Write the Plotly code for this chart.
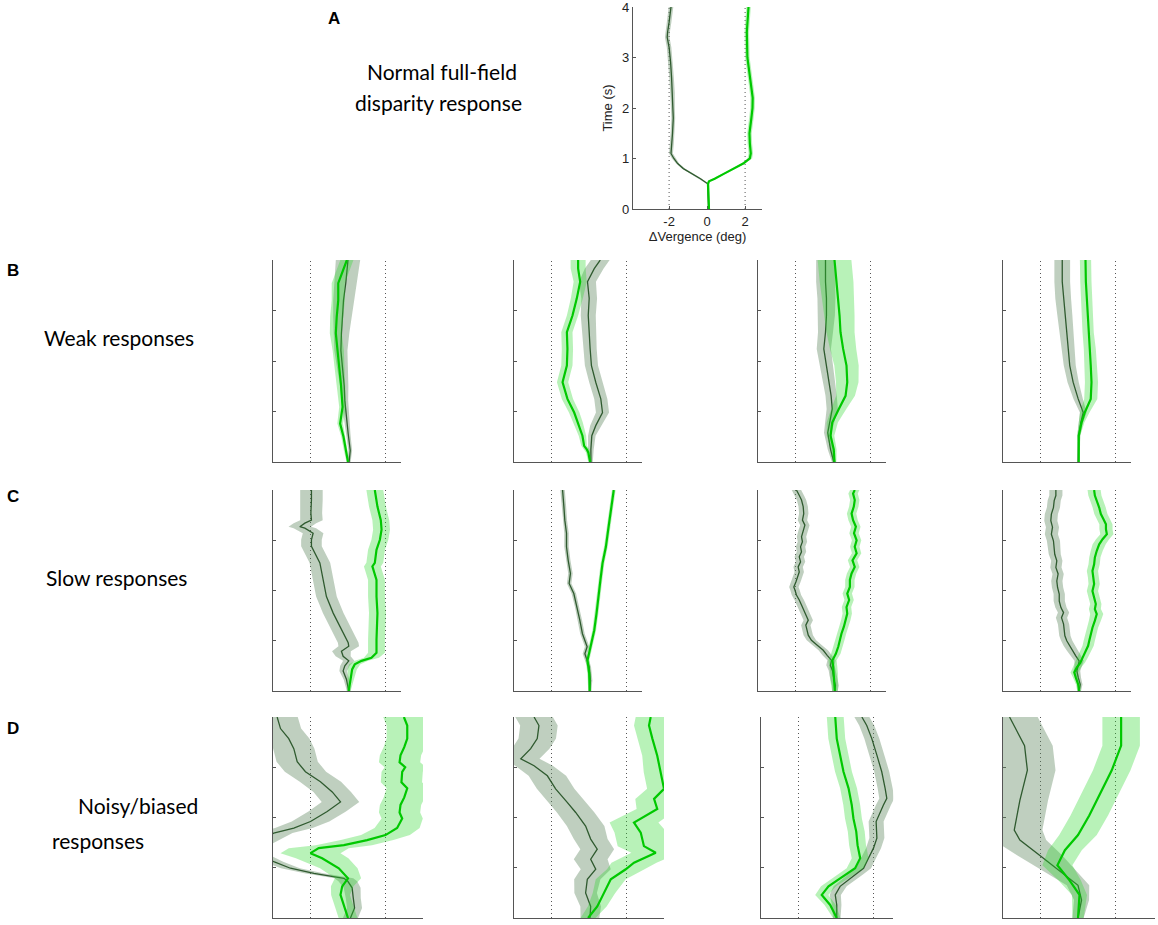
import plotly.graph_objects as go

W_PX, H_PX = 1158, 925

# each trace: (time s, vergence deg, band half-width deg)
A_DARK = [(0, 0.08, 0.05), (0.2, 0.07, 0.05), (0.4, 0.05, 0.05), (0.5, 0.03, 0.06), (0.6, -0.35, 0.08),
          (0.7, -0.8, 0.08), (0.8, -1.25, 0.08), (0.9, -1.55, 0.08), (1.0, -1.75, 0.1), (1.1, -1.9, 0.1),
          (1.3, -1.85, 0.1), (1.5, -1.82, 0.1), (1.8, -1.78, 0.1), (2.0, -1.8, 0.1), (2.3, -1.82, 0.12),
          (2.6, -1.87, 0.12), (2.9, -1.92, 0.12), (3.2, -2.0, 0.12), (3.4, -2.1, 0.12), (3.5, -2.08, 0.12),
          (3.7, -2.0, 0.12), (4.0, -1.9, 0.12)]
A_BRIGHT = [(0, 0.1, 0.05), (0.2, 0.09, 0.05), (0.4, 0.07, 0.05), (0.5, 0.05, 0.06), (0.55, 0.1, 0.06),
            (0.6, 0.4, 0.08), (0.7, 0.9, 0.08), (0.8, 1.4, 0.08), (0.9, 1.9, 0.1), (1.0, 2.25, 0.12),
            (1.1, 2.3, 0.12), (1.3, 2.25, 0.12), (1.5, 2.23, 0.12), (1.8, 2.33, 0.12), (2.0, 2.39, 0.12),
            (2.2, 2.4, 0.12), (2.5, 2.3, 0.12), (2.8, 2.18, 0.12), (3.0, 2.12, 0.12), (3.5, 2.09, 0.12),
            (4.0, 2.18, 0.12)]

B1_DARK = [(0, 0.06, 0.08), (0.23, 0.12, 0.1), (0.56, 0.01, 0.12), (1.0, -0.12, 0.15), (1.22, -0.17, 0.18),
           (1.5, -0.2, 0.22), (1.88, -0.29, 0.3), (2.21, -0.38, 0.35), (2.55, -0.35, 0.42), (2.88, -0.29, 0.5),
           (3.2, -0.24, 0.55), (3.54, -0.12, 0.6), (4.0, 0.0, 0.65)]
B1_BRIGHT = [(0, 0.0, 0.08), (0.23, -0.12, 0.1), (0.5, -0.24, 0.12), (0.76, -0.42, 0.15), (1.09, -0.29, 0.18),
             (1.55, -0.38, 0.22), (1.88, -0.47, 0.25), (2.21, -0.52, 0.3), (2.55, -0.65, 0.32), (2.88, -0.6, 0.35),
             (3.2, -0.52, 0.35), (3.54, -0.52, 0.35), (3.87, -0.2, 0.35), (4.0, -0.06, 0.35)]

B2_DARK = [(0, 0.1, 0.1), (0.25, 0.1, 0.15), (0.52, 0.15, 0.2), (0.72, 0.36, 0.3), (0.98, 0.72, 0.35),
           (1.25, 0.63, 0.35), (1.58, 0.36, 0.35), (1.91, 0.13, 0.35), (2.24, 0.06, 0.35), (2.57, 0.01, 0.38),
           (2.9, -0.04, 0.4), (3.24, 0.01, 0.42), (3.57, -0.08, 0.45), (3.83, 0.28, 0.5), (4.0, 0.6, 0.5)]
B2_BRIGHT = [(0, 0.06, 0.1), (0.19, -0.04, 0.12), (0.25, -0.12, 0.15), (0.32, -0.26, 0.15), (0.52, -0.35, 0.2),
             (0.78, -0.58, 0.25), (0.98, -0.79, 0.28), (1.25, -1.15, 0.3), (1.58, -1.41, 0.3), (1.91, -1.18, 0.3),
             (2.24, -1.15, 0.3), (2.57, -1.18, 0.3), (2.9, -0.88, 0.3), (3.24, -0.65, 0.32), (3.57, -0.47, 0.35),
             (3.83, -0.58, 0.4), (4.0, -0.58, 0.4)]

B3_DARK = [(0, 0.04, 0.1), (0.25, -0.13, 0.15), (0.58, -0.28, 0.2), (0.78, -0.17, 0.25), (1.05, -0.04, 0.3),
           (1.31, -0.1, 0.3), (1.58, -0.22, 0.32), (1.91, -0.35, 0.35), (2.24, -0.49, 0.38), (2.57, -0.4, 0.4),
           (2.9, -0.35, 0.45), (3.24, -0.35, 0.48), (3.57, -0.4, 0.5), (4.0, -0.4, 0.5)]
B3_BRIGHT = [(0, 0.08, 0.1), (0.25, 0.04, 0.15), (0.52, -0.13, 0.2), (0.78, -0.04, 0.3), (1.05, 0.31, 0.4),
             (1.31, 0.67, 0.5), (1.58, 0.76, 0.6), (1.91, 0.72, 0.65), (2.24, 0.54, 0.7), (2.57, 0.4, 0.75),
             (2.9, 0.35, 0.8), (3.24, 0.26, 0.85), (3.57, 0.19, 0.9), (4.0, 0.08, 0.9)]

B4_DARK = [(0, 0.01, 0.05), (0.52, 0.04, 0.08), (0.78, 0.15, 0.12), (0.98, 0.28, 0.18), (1.25, 0.01, 0.25),
           (1.58, -0.26, 0.3), (1.91, -0.44, 0.32), (2.24, -0.52, 0.35), (2.57, -0.61, 0.38), (2.9, -0.7, 0.4),
           (3.24, -0.79, 0.42), (3.57, -0.84, 0.42), (4.0, -0.84, 0.42)]
B4_BRIGHT = [(0, 0.04, 0.05), (0.52, 0.04, 0.08), (0.78, 0.19, 0.15), (0.98, 0.36, 0.25), (1.25, 0.68, 0.35),
             (1.58, 0.72, 0.35), (1.91, 0.68, 0.33), (2.24, 0.63, 0.32), (2.57, 0.54, 0.3), (2.9, 0.49, 0.3),
             (3.24, 0.45, 0.3), (3.57, 0.42, 0.3), (4.0, 0.4, 0.3)]

C1_DARK = [(0, 0.04, 0.1), (0.23, -0.08, 0.15), (0.4, -0.26, 0.2), (0.5, -0.17, 0.25), (0.6, 0.04, 0.3),
           (0.69, -0.26, 0.4), (0.79, -0.35, 0.5), (0.89, 0.04, 0.55), (0.96, 0.01, 0.55), (1.22, -0.35, 0.55),
           (1.55, -0.79, 0.55), (1.88, -1.15, 0.55), (2.21, -1.32, 0.55), (2.55, -1.5, 0.55), (2.88, -1.95, 0.55),
           (3.01, -1.95, 0.55), (3.14, -1.86, 0.55), (3.24, -2.3, 0.6), (3.27, -2.57, 0.6), (3.34, -2.3, 0.6),
           (3.4, -1.95, 0.6), (3.54, -1.98, 0.6), (3.8, -1.95, 0.6), (4.0, -1.95, 0.6)]
C1_BRIGHT = [(0, 0.04, 0.1), (0.17, 0.1, 0.15), (0.33, 0.19, 0.2), (0.43, 0.22, 0.25), (0.53, 0.36, 0.3),
             (0.6, 0.72, 0.35), (0.66, 1.25, 0.4), (0.76, 1.52, 0.45), (1.02, 1.52, 0.45), (1.55, 1.57, 0.45),
             (1.88, 1.52, 0.45), (2.21, 1.52, 0.45), (2.48, 1.3, 0.45), (2.55, 1.43, 0.45), (2.81, 1.52, 0.45),
             (3.01, 1.7, 0.45), (3.21, 1.79, 0.45), (3.4, 1.75, 0.45), (3.67, 1.57, 0.45), (4.0, 1.43, 0.45)]

C2_DARK = [(0, 0.04, 0.08), (0.21, 0.08, 0.1), (0.48, 0.01, 0.1), (0.61, -0.1, 0.12), (0.74, -0.22, 0.12),
           (0.88, -0.1, 0.12), (1.14, -0.35, 0.12), (1.41, -0.49, 0.12), (1.67, -0.63, 0.12), (1.94, -0.81, 0.12),
           (2.14, -1.06, 0.12), (2.34, -0.99, 0.12), (2.6, -1.11, 0.12), (2.87, -1.2, 0.12), (3.14, -1.2, 0.12),
           (3.4, -1.29, 0.12), (3.67, -1.34, 0.12), (4.0, -1.41, 0.12)]
C2_BRIGHT = [(0, 0.04, 0.08), (0.35, 0.01, 0.1), (0.61, -0.08, 0.1), (0.88, 0.08, 0.1), (1.21, 0.28, 0.1),
             (1.54, 0.4, 0.1), (1.87, 0.49, 0.1), (2.21, 0.61, 0.1), (2.54, 0.72, 0.1), (2.87, 0.9, 0.1),
             (3.2, 1.02, 0.1), (3.53, 1.15, 0.1), (4.0, 1.32, 0.1)]

C3_DARK = [(0, 0.1, 0.15), (0.11, 0.13, 0.18), (0.21, 0.06, 0.2), (0.31, 0.01, 0.2), (0.41, -0.03, 0.2),
           (0.51, -0.14, 0.22), (0.61, -0.08, 0.22), (0.71, -0.31, 0.25), (0.81, -0.52, 0.25), (0.91, -0.84, 0.25),
           (1.01, -1.15, 0.25), (1.11, -1.32, 0.25), (1.21, -1.38, 0.25), (1.31, -1.45, 0.25), (1.41, -1.32, 0.25),
           (1.51, -1.45, 0.25), (1.61, -1.59, 0.25), (1.71, -1.68, 0.25), (1.81, -1.8, 0.25), (1.91, -1.95, 0.25),
           (2.01, -2.03, 0.25), (2.07, -2.09, 0.25), (2.17, -1.98, 0.25), (2.27, -1.91, 0.25), (2.37, -1.8, 0.25),
           (2.47, -1.86, 0.25), (2.57, -1.73, 0.25), (2.67, -1.8, 0.25), (2.77, -1.68, 0.25), (2.87, -1.73, 0.25),
           (2.97, -1.63, 0.25), (3.07, -1.68, 0.25), (3.2, -1.59, 0.25), (3.3, -1.5, 0.25), (3.4, -1.63, 0.25),
           (3.53, -1.56, 0.25), (3.67, -1.59, 0.25), (3.8, -1.68, 0.25), (3.9, -1.81, 0.25), (4.0, -1.95, 0.25)]
C3_BRIGHT = [(0, 0.1, 0.15), (0.21, 0.06, 0.2), (0.35, 0.06, 0.2), (0.48, 0.01, 0.22), (0.61, -0.03, 0.22),
             (0.74, 0.15, 0.25), (0.88, 0.28, 0.25), (1.01, 0.36, 0.25), (1.14, 0.45, 0.25), (1.28, 0.58, 0.25),
             (1.41, 0.68, 0.25), (1.54, 0.76, 0.25), (1.67, 0.72, 0.25), (1.81, 0.86, 0.25), (1.94, 0.76, 0.25),
             (2.07, 0.9, 0.25), (2.21, 0.9, 0.25), (2.34, 0.99, 0.25), (2.47, 1.16, 0.25), (2.6, 1.04, 0.25),
             (2.74, 1.26, 0.25), (2.87, 1.16, 0.25), (3.0, 1.26, 0.25), (3.14, 1.12, 0.25), (3.27, 1.22, 0.25),
             (3.4, 1.07, 0.25), (3.53, 0.99, 0.25), (3.67, 1.11, 0.25), (3.8, 1.16, 0.25), (3.93, 1.07, 0.25),
             (4.0, 1.16, 0.25)]

C4_DARK = [(0, 0.06, 0.1), (0.13, 0.12, 0.12), (0.27, 0.01, 0.15), (0.4, -0.06, 0.18), (0.5, 0.01, 0.2),
           (0.6, 0.06, 0.25), (0.7, -0.12, 0.28), (0.8, -0.29, 0.3), (0.9, -0.47, 0.3), (1.0, -0.6, 0.3),
           (1.1, -0.7, 0.3), (1.2, -0.74, 0.3), (1.33, -0.77, 0.3), (1.46, -0.88, 0.3), (1.56, -0.77, 0.3),
           (1.66, -0.91, 0.3), (1.79, -1.0, 0.3), (1.93, -1.0, 0.3), (2.06, -1.09, 0.3), (2.19, -1.13, 0.3),
           (2.33, -1.06, 0.3), (2.46, -1.18, 0.3), (2.59, -1.13, 0.3), (2.72, -1.24, 0.32), (2.86, -1.27, 0.35),
           (2.99, -1.31, 0.35), (3.12, -1.42, 0.35), (3.26, -1.36, 0.35), (3.39, -1.45, 0.35), (3.52, -1.42, 0.35),
           (3.65, -1.31, 0.35), (3.79, -1.27, 0.35), (3.89, -1.18, 0.35), (4.0, -1.18, 0.35)]
C4_BRIGHT = [(0, 0.06, 0.1), (0.13, 0.01, 0.12), (0.27, -0.12, 0.15), (0.37, -0.2, 0.2), (0.47, -0.06, 0.22),
             (0.56, 0.12, 0.25), (0.66, 0.24, 0.28), (0.8, 0.42, 0.3), (0.9, 0.54, 0.3), (1.0, 0.6, 0.3),
             (1.13, 0.68, 0.3), (1.26, 0.77, 0.3), (1.4, 0.9, 0.32), (1.53, 1.0, 0.35), (1.63, 0.9, 0.32),
             (1.73, 0.95, 0.3), (1.86, 0.86, 0.3), (1.99, 0.77, 0.3), (2.13, 0.86, 0.3), (2.26, 0.83, 0.3),
             (2.39, 0.77, 0.3), (2.52, 0.86, 0.3), (2.66, 0.9, 0.3), (2.79, 1.0, 0.32), (2.92, 1.13, 0.35),
             (3.02, 1.31, 0.35), (3.12, 1.54, 0.35), (3.22, 1.49, 0.35), (3.32, 1.49, 0.35), (3.42, 1.36, 0.35),
             (3.52, 1.22, 0.35), (3.65, 1.13, 0.35), (3.79, 1.0, 0.35), (3.89, 0.9, 0.35), (4.0, 0.86, 0.35)]

D1_DARK = [(0, 0.13, 0.4), (0.2, 0.35, 0.4), (0.4, 0.28, 0.4), (0.6, 0.22, 0.45), (0.73, -0.01, 0.5),
           (0.79, -0.22, 0.5), (0.89, -1.82, 0.5), (0.99, -3.07, 0.5), (1.12, -3.96, 0.5), (1.22, -4.6, 0.6),
           (1.45, -5.0, 0.8), (1.69, -3.96, 1.0), (1.79, -2.89, 1.0), (1.92, -2.0, 1.0), (2.12, -1.11, 1.0),
           (2.31, -0.4, 1.0), (2.51, -0.84, 1.0), (2.71, -1.47, 1.1), (2.91, -2.27, 1.1), (3.11, -2.71, 1.1),
           (3.37, -2.89, 1.1), (3.57, -3.16, 1.1), (3.77, -3.6, 1.1), (4.0, -3.78, 1.1)]
D1_BRIGHT = [(0, 0.0, 0.5), (0.26, -0.22, 0.5), (0.46, -0.4, 0.5), (0.63, -0.31, 0.6), (0.79, 0.0, 0.7),
             (0.99, -0.49, 1.0), (1.19, -1.38, 1.4), (1.29, -2.0, 1.6), (1.39, -1.56, 1.6), (1.45, -0.22, 1.5),
             (1.55, 1.02, 1.4), (1.65, 2.0, 1.3), (1.79, 2.62, 1.2), (1.98, 2.89, 1.1), (2.1, 2.75, 1.1),
             (2.25, 2.8, 1.1), (2.4, 3.0, 1.1), (2.58, 3.16, 1.1), (2.7, 2.85, 1.1), (2.91, 2.89, 1.1),
             (3.0, 3.05, 1.1), (3.1, 2.75, 1.1), (3.24, 2.8, 1.1), (3.4, 3.0, 1.1), (3.57, 3.16, 1.1),
             (3.83, 3.16, 1.1), (4.0, 2.98, 1.1)]

D2_DARK = [(0, 0.05, 0.5), (0.23, 0.09, 0.55), (0.5, -0.18, 0.6), (0.77, -0.09, 0.7), (0.97, 0.36, 0.8),
           (1.17, 0.09, 0.9), (1.37, 0.44, 0.9), (1.57, 0.09, 0.9), (1.83, -0.18, 1.0), (2.1, -0.71, 1.0),
           (2.3, -1.16, 1.0), (2.57, -1.78, 1.0), (2.83, -2.22, 1.0), (3.03, -2.93, 1.0), (3.17, -3.64, 1.0),
           (3.37, -3.11, 1.0), (3.57, -2.76, 1.0), (3.83, -2.67, 1.0), (4.0, -2.93, 1.0)]
D2_BRIGHT = [(0, -0.05, 0.4), (0.23, 0.44, 0.5), (0.5, 0.8, 0.6), (0.77, 1.16, 0.8), (0.97, 1.96, 1.0),
             (1.1, 2.4, 1.2), (1.3, 3.56, 1.3), (1.43, 2.93, 1.4), (1.7, 2.76, 1.4), (1.9, 2.4, 1.3),
             (2.17, 3.64, 1.1), (2.37, 3.47, 1.0), (2.57, 4.0, 0.9), (2.9, 3.82, 0.9), (3.23, 3.64, 0.8),
             (3.57, 3.38, 0.8), (3.83, 3.2, 0.8), (4.0, 3.29, 0.8)]

D3_DARK = [(0, 0.04, 0.2), (0.26, 0.04, 0.25), (0.46, -0.04, 0.3), (0.63, 0.22, 0.35), (0.86, 1.02, 0.4),
           (0.99, 1.47, 0.4), (1.19, 1.73, 0.4), (1.39, 2.0, 0.4), (1.59, 2.18, 0.4), (1.92, 2.14, 0.4),
           (2.25, 2.53, 0.4), (2.38, 2.71, 0.4), (2.58, 2.62, 0.4), (2.91, 2.44, 0.4), (3.24, 2.18, 0.4),
           (3.57, 1.91, 0.4), (3.83, 1.64, 0.4), (4.0, 1.38, 0.4)]
D3_BRIGHT = [(0, 0.04, 0.2), (0.26, -0.31, 0.3), (0.46, -0.76, 0.35), (0.63, -0.4, 0.4), (0.79, 0.22, 0.45),
             (0.99, 1.02, 0.45), (1.19, 1.29, 0.45), (1.45, 1.15, 0.45), (1.72, 1.08, 0.45), (1.98, 0.93, 0.45),
             (2.25, 0.84, 0.45), (2.58, 0.67, 0.45), (2.91, 0.4, 0.45), (3.24, 0.22, 0.45), (3.57, 0.04, 0.45),
             (4.0, -0.04, 0.45)]

D4_DARK = [(0, 0.0, 0.3), (0.36, 0.19, 0.4), (0.65, 0.0, 0.6), (0.95, -1.0, 0.9), (1.25, -2.05, 1.2),
           (1.55, -3.1, 1.4), (1.75, -3.4, 1.5), (2.34, -3.1, 1.5), (2.94, -2.7, 1.5), (3.43, -2.85, 1.5),
           (4.0, -3.65, 1.5)]
D4_BRIGHT = [(0, 0.0, 0.3), (0.46, 0.08, 0.4), (0.75, -0.45, 0.6), (1.05, -1.1, 0.8), (1.35, -0.7, 0.9),
             (1.65, 0.0, 1.0), (2.04, 0.6, 1.0), (2.44, 1.15, 1.0), (2.94, 1.8, 1.0), (3.43, 2.3, 1.0),
             (4.0, 2.3, 1.0)]

ROW_LABELS = ["B", "C", "D"]

DARK_LINE = "#2f5a2f"
DARK_FILL = "rgba(95,135,95,0.4)"
BRIGHT_LINE = "#00c800"
BRIGHT_FILL = "rgba(40,215,40,0.33)"
AXIS_COL = "#555555"

# panel boxes in pixels: (left, top, bottom), then x range
PANELS = [
    ("A", A_DARK, A_BRIGHT, (633, 7, 209), (-3.9, 2.9)),
    ("B1", B1_DARK, B1_BRIGHT, (273, 260, 462), (-4, 2.85)),
    ("B2", B2_DARK, B2_BRIGHT, (514, 260, 462), (-4, 2.85)),
    ("B3", B3_DARK, B3_BRIGHT, (758, 260, 462), (-4, 2.85)),
    ("B4", B4_DARK, B4_BRIGHT, (1003, 260, 462), (-4, 2.85)),
    ("C1", C1_DARK, C1_BRIGHT, (273, 490, 691), (-4, 2.85)),
    ("C2", C2_DARK, C2_BRIGHT, (514, 490, 691), (-4, 2.85)),
    ("C3", C3_DARK, C3_BRIGHT, (758, 490, 691), (-4, 2.85)),
    ("C4", C4_DARK, C4_BRIGHT, (1003, 490, 691), (-4, 2.85)),
    ("D1", D1_DARK, D1_BRIGHT, (273, 717, 918), (-4, 4)),
    ("D2", D2_DARK, D2_BRIGHT, (514, 717, 918), (-4, 4)),
    ("D3", D3_DARK, D3_BRIGHT, (761, 717, 918), (-4, 3.05)),
    ("D4", D4_DARK, D4_BRIGHT, (1003, 717, 918), (-4, 4.1)),
]

fig = go.Figure()
layout = dict(width=W_PX, height=H_PX, margin=dict(l=0, r=0, t=0, b=0, autoexpand=False),
              paper_bgcolor="white", plot_bgcolor="rgba(0,0,0,0)", showlegend=False)
tick_font = dict(family="Liberation Sans", size=13, color="#222")


def add_band(data, xa, ya, fill, line, lw):
    t = [p[0] for p in data]
    v = [p[1] for p in data]
    w = [p[2] for p in data]
    hi = [a + b for a, b in zip(v, w)]
    lo = [a - b for a, b in zip(v, w)]
    fig.add_trace(go.Scatter(x=hi + lo[::-1], y=t + t[::-1], fill="toself", fillcolor=fill,
                             line=dict(width=0), mode="lines", xaxis=xa, yaxis=ya, hoverinfo="skip"))
    fig.add_trace(go.Scatter(x=v, y=t, mode="lines", line=dict(color=line, width=lw),
                             xaxis=xa, yaxis=ya))


for i, (name, dark, bright, box, xr) in enumerate(PANELS):
    n = i + 1
    xa = "x" if n == 1 else "x%d" % n
    ya = "y" if n == 1 else "y%d" % n
    left, top, bottom = box
    scale = 19.0 if name == "A" else 18.75
    right = left + (xr[1] - xr[0]) * scale
    is_a = name == "A"
    # dotted reference lines at +/-2 deg
    for d in (-2, 2):
        fig.add_trace(go.Scatter(x=[d, d], y=[0, 4], mode="lines", xaxis=xa, yaxis=ya,
                                 line=dict(color="#555555", width=1, dash="1px,3px"), hoverinfo="skip"))
    add_band(dark, xa, ya, DARK_FILL, DARK_LINE, 1.3)
    add_band(bright, xa, ya, BRIGHT_FILL, BRIGHT_LINE, 2.2)
    xkey = "xaxis" if n == 1 else "xaxis%d" % n
    ykey = "yaxis" if n == 1 else "yaxis%d" % n
    layout[xkey] = dict(domain=[left / W_PX, right / W_PX], range=list(xr), anchor=ya, automargin=False,
                        showgrid=False, zeroline=False, showline=True, linecolor=AXIS_COL, linewidth=1.3,
                        ticks="inside" if is_a else "", ticklen=3, tickcolor=AXIS_COL,
                        tickvals=[-2, 0, 2], ticktext=["-2", "0", "2"], showticklabels=is_a,
                        layer="below traces", tickfont=tick_font, ticklabeloverflow="allow",
                        title=dict(text="\u0394Vergence (deg)" if is_a else "", standoff=2, font=tick_font))
    layout[ykey] = dict(domain=[1 - bottom / H_PX, 1 - top / H_PX], range=[0, 4.0001], anchor=xa,
                        automargin=False, ticklabeloverflow="allow",
                        showgrid=False, zeroline=False, showline=True, linecolor=AXIS_COL, linewidth=1.3,
                        ticks="inside", ticklen=3, tickcolor=AXIS_COL, tickvals=[0, 1, 2, 3, 4],
                        showticklabels=is_a, layer="below traces", tickfont=tick_font,
                        title=dict(text="Time (s)" if is_a else "", standoff=6, font=tick_font))

fig.update_layout(**layout)

label_font = dict(family="Liberation Sans", size=17, color="black")
text_font = dict(family="Lato", size=21, color="black")
ann = [dict(text="<b>A</b>", x=334, y=18, font=label_font),
       dict(text="Normal full-field", x=442, y=72, font=text_font),
       dict(text="disparity response", x=438, y=103, font=text_font),
       dict(text="Weak responses", x=119, y=337, font=text_font),
       dict(text="Slow responses", x=116, y=577, font=text_font),
       dict(text="Noisy/biased", x=138, y=805, font=text_font),
       dict(text="responses", x=98, y=840, font=text_font)]
for lab, ly in zip(ROW_LABELS, [270, 497, 728]):
    ann.append(dict(text="<b>%s</b>" % lab, x=13, y=ly, font=label_font))
for a in ann:
    a.update(x=a["x"] / W_PX, y=1 - a["y"] / H_PX, xref="paper", yref="paper", showarrow=False,
             xanchor="center", yanchor="middle")
fig.update_layout(annotations=ann)

fig.write_html("out.html", config={"displayModeBar": False},
               post_script="document.body.style.margin='0';")
